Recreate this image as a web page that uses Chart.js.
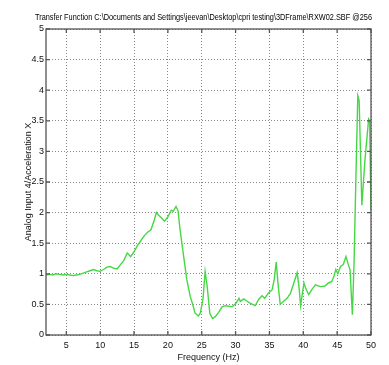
<!DOCTYPE html>
<html>
<head>
<meta charset="UTF-8">
<title>Transfer Function</title>
<script src="https://cdn.jsdelivr.net/npm/chart.js@4.4.0/dist/chart.umd.min.js"></script>
<style>
  body { margin: 0; background: #fff; }
  #wrap { width: 389px; height: 365px; position: relative; }
</style>
</head>
<body>
<div id="wrap"><canvas id="tf"></canvas></div>
<script>
// frequency (Hz) and magnitude
var freq = [2, 2.5, 3, 3.5, 4, 4.5, 5, 5.5, 6, 6.5, 7, 7.5, 8, 8.5, 9, 9.5, 10, 10.5, 11, 11.5,
  12, 12.5, 13, 13.5, 14, 14.5, 15, 15.5, 16, 16.5, 17, 17.5, 18, 18.3, 18.6, 19, 19.5, 20, 20.5, 20.8,
  21.2, 21.5, 21.8, 22.3, 22.8, 23.3, 23.7, 24, 24.5, 24.8, 25.2, 25.5, 25.8, 26.2, 26.6, 27, 27.5, 28, 28.5, 29,
  29.5, 30, 30.5, 30.7, 31.2, 31.6, 32, 32.5, 32.9, 33.4, 33.9, 34.3, 34.8, 35.4, 35.7, 36, 36.3, 36.6, 37.1, 37.6,
  38.1, 38.6, 39.1, 39.4, 39.6, 40.1, 40.4, 40.8, 41.3, 41.8, 42.5, 43.2, 43.7, 44.2, 44.5, 44.8, 45.1, 45.5, 45.9, 46.3,
  46.65, 46.9, 47.25, 47.5, 47.75, 48.05, 48.25, 48.65, 49.1, 49.65, 49.8, 50];
var ratio = [0.98, 0.99, 0.98, 1.0, 0.99, 0.98, 0.99, 0.98, 0.97, 0.98, 0.99, 1.01, 1.03, 1.05, 1.07, 1.05, 1.04, 1.07, 1.11, 1.12,
  1.09, 1.08, 1.15, 1.22, 1.34, 1.28, 1.36, 1.46, 1.54, 1.62, 1.68, 1.72, 1.88, 2.0, 1.96, 1.92, 1.86, 1.93, 2.04, 2.02,
  2.10, 2.03, 1.72, 1.31, 0.90, 0.63, 0.49, 0.36, 0.31, 0.36, 0.6, 1.04, 0.8, 0.35, 0.27, 0.30, 0.37, 0.46, 0.48, 0.47,
  0.46, 0.51, 0.6, 0.55, 0.59, 0.56, 0.53, 0.5, 0.48, 0.58, 0.64, 0.6, 0.68, 0.74, 0.9, 1.19, 0.8, 0.5, 0.55, 0.6,
  0.68, 0.85, 1.02, 0.75, 0.48, 0.85, 0.75, 0.66, 0.75, 0.82, 0.79, 0.80, 0.85, 0.87, 0.95, 1.07, 1.0, 1.12, 1.15, 1.28,
  1.15, 1.07, 0.33, 1.18, 2.47, 3.91, 3.83, 2.12, 2.85, 3.53, 3.5, 2.04];
var xTicks = [5, 10, 15, 20, 25, 30, 35, 40, 45, 50];
var titleText = 'Transfer Function C:\\Documents and Settings\\jeevan\\Desktop\\cpri testing\\3DFrame\\RXW02.SBF @256';

var fnt = "'Liberation Sans Narrow', 'Arial Narrow', 'Liberation Sans', sans-serif";

var pts = [];
for (var i = 0; i < freq.length; i++) pts.push({x: freq[i], y: ratio[i]});

// matlab style box with inward ticks, plus the squeezed title line
var boxPlugin = {
  id: 'box',
  afterDraw: function(chart) {
    var c = chart.ctx, a = chart.chartArea;
    var xs = chart.scales.x, ys = chart.scales.y;
    c.save();
    c.strokeStyle = '#555';
    c.lineWidth = 1.3;
    c.strokeRect(a.left, a.top, a.right - a.left, a.bottom - a.top);
    c.beginPath();
    ys.ticks.forEach(function(t) {
      var y = ys.getPixelForValue(t.value);
      c.moveTo(a.left, y); c.lineTo(a.left + 4, y);
      c.moveTo(a.right, y); c.lineTo(a.right - 4, y);
    });
    xs.ticks.forEach(function(t) {
      var x = xs.getPixelForValue(t.value);
      c.moveTo(x, a.bottom); c.lineTo(x, a.bottom - 4);
      c.moveTo(x, a.top); c.lineTo(x, a.top + 4);
    });
    c.stroke();

    c.fillStyle = '#000';
    c.font = "9.5px 'Liberation Sans', Arial, sans-serif";
    c.textAlign = 'center';
    c.textBaseline = 'alphabetic';
    c.fillText(titleText, 203.5, 19.5, 337);
    c.restore();
  }
};

new Chart(document.getElementById('tf'), {
  type: 'line',
  data: {
    datasets: [{
      data: pts,
      borderColor: '#45d845',
      borderWidth: 1.4,
      pointRadius: 0,
      tension: 0
    }]
  },
  options: {
    responsive: true,
    maintainAspectRatio: false,
    animation: false,
    layout: { padding: { top: 29, right: 18, left: 0, bottom: 0 } },
    plugins: {
      legend: { display: false },
      tooltip: { enabled: false },
      title: { display: false }
    },
    scales: {
      x: {
        type: 'linear',
        min: 2,
        max: 50,
        afterBuildTicks: function(s) {
          s.ticks = xTicks.map(function(v) { return {value: v}; });
        },
        afterFit: function(s) { s.height = 30; },
        ticks: { color: '#111', font: { family: fnt, size: 9 }, padding: 5, maxRotation: 0 },
        grid: { color: '#888', lineWidth: 1, drawTicks: false },
        border: { display: false, dash: [1, 2] },
        title: { display: true, text: 'Frequency (Hz)', color: '#111', font: { family: fnt, size: 9 }, padding: { top: 0, bottom: 2.5 } }
      },
      y: {
        min: 0,
        max: 5,
        afterFit: function(s) { s.width = 46; },
        ticks: {
          stepSize: 0.5,
          color: '#111',
          font: { family: fnt, size: 9 },
          padding: 2,
          callback: function(v) { return String(v); }
        },
        grid: { color: '#888', lineWidth: 1, drawTicks: false },
        border: { display: false, dash: [1, 2] },
        title: { display: true, text: 'Analog Input 4/Acceleration X', color: '#111', font: { family: fnt, size: 9 }, padding: { top: 23.5, bottom: 0 } }
      }
    }
  },
  plugins: [boxPlugin]
});
</script>
</body>
</html>
